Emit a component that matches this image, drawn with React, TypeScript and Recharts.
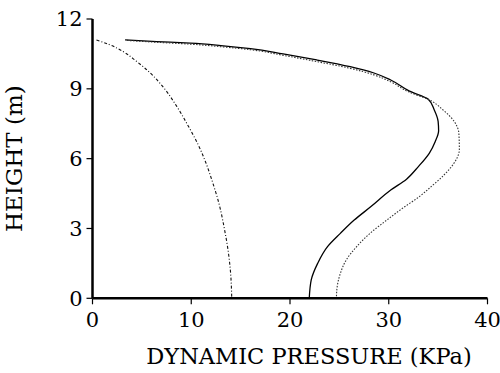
import React from "react";
import { LineChart, Line, XAxis, YAxis, Label } from "recharts";

const xTicks = [0, 10, 20, 30, 40];
const yTicks = [0, 3, 6, 9, 12];

const solidX = [3.3, 6.5, 9.9, 13.0, 16.0, 19.3, 22.7, 26.1, 28.5, 30.2, 32.1, 34.0, 34.6, 35.0, 35.05, 34.7, 34.1, 33.0, 31.8, 30.2, 28.2, 26.5, 25.1, 23.8, 22.8, 22.15, 21.95];
const solidY = [11.1, 11.03, 10.96, 10.86, 10.73, 10.5, 10.24, 9.95, 9.68, 9.38, 8.9, 8.55, 8.1, 7.6, 7.2, 6.73, 6.23, 5.66, 5.12, 4.65, 3.94, 3.36, 2.79, 2.22, 1.5, 0.79, 0];

const dottedX = [3.5, 6.5, 9.9, 13.0, 16.0, 19.3, 22.7, 26.1, 28.5, 30.2, 32.1, 34.0, 35.5, 36.7, 37.1, 37.15, 36.6, 35.6, 34.3, 33.1, 31.5, 29.8, 28.1, 26.75, 25.7, 25.1, 24.75, 24.7];
const dottedY = [11.08, 11.0, 10.92, 10.81, 10.68, 10.44, 10.17, 9.88, 9.6, 9.3, 8.85, 8.55, 8.09, 7.55, 7.09, 6.4, 5.8, 5.3, 4.8, 4.37, 3.9, 3.36, 2.79, 2.22, 1.65, 1.07, 0.4, 0];

const dashDotX = [0.4, 1.7, 3.1, 4.4, 5.8, 7.3, 8.6, 9.7, 10.7, 11.5, 12.15, 12.85, 13.35, 13.75, 14.0, 14.1];
const dashDotY = [11.1, 10.9, 10.6, 10.2, 9.7, 9.0, 8.2, 7.4, 6.6, 5.8, 5.0, 4.0, 3.0, 2.0, 1.0, 0];

const toPoints = (xs: number[], ys: number[]) => xs.map((x, i) => ({ x, y: ys[i] }));

const solidData = toPoints(solidX, solidY);
const dottedData = toPoints(dottedX, dottedY);
const dashDotData = toPoints(dashDotX, dashDotY);

const FONT = "DejaVu Serif";
const axisLine = { stroke: "#000", strokeWidth: 2.5 };
const tickLine = { stroke: "#000", strokeWidth: 1.2 };

const XTick = (props: any) => (
  <text x={props.x} y={props.y} dy="0.71em" textAnchor="middle" fill="#000" fontSize={21} fontFamily={FONT}>
    {props.payload.value}
  </text>
);
const YTick = (props: any) => (
  <text x={props.x} y={props.y} dy="0.355em" textAnchor="end" fill="#000" fontSize={21} fontFamily={FONT}>
    {props.payload.value}
  </text>
);

export default function App() {
  return (
    <div style={{ position: "absolute", left: 0, top: 0, background: "#fff" }}>
      <LineChart width={500} height={373} margin={{ top: 19, right: 12.5, bottom: 0, left: 32.5 }}>
        <XAxis
          xAxisId="in"
          type="number"
          dataKey="x"
          domain={[0, 40]}
          ticks={xTicks}
          mirror
          height={0}
          axisLine={false}
          tickLine={tickLine}
          tickSize={5}
          tickFormatter={() => ""}
        />
        <XAxis
          xAxisId="main"
          type="number"
          dataKey="x"
          domain={[0, 40]}
          ticks={xTicks}
          height={74.7}
          axisLine={axisLine}
          tickLine={tickLine}
          tickSize={6}
          tick={XTick}
          tickMargin={8}
        >
          <Label value="DYNAMIC PRESSURE (KPa)" position="insideBottom" offset={9} dx={19} style={{ fill: "#000", fontSize: 22.5, fontFamily: FONT }} />
        </XAxis>
        <XAxis xAxisId="top" orientation="top" type="number" domain={[0, 40]} height={0} axisLine={axisLine} tick={false} tickLine={false} />
        <YAxis
          yAxisId="in"
          type="number"
          dataKey="y"
          domain={[0, 12]}
          ticks={yTicks}
          mirror
          width={0}
          axisLine={false}
          tickLine={tickLine}
          tickSize={6}
          tickFormatter={() => ""}
        />
        <YAxis
          yAxisId="main"
          type="number"
          dataKey="y"
          domain={[0, 12]}
          ticks={yTicks}
          width={60}
          axisLine={axisLine}
          tickLine={tickLine}
          tickSize={6}
          tick={YTick}
          tickMargin={4}
        >
          <Label value="HEIGHT (m)" angle={-90} position="insideLeft" offset={-19} style={{ fill: "#000", fontSize: 23, fontFamily: FONT, textAnchor: "middle" }} />
        </YAxis>
        <YAxis yAxisId="right" orientation="right" type="number" domain={[0, 12]} width={0} axisLine={axisLine} tick={false} tickLine={false} />
        <Line xAxisId="main" yAxisId="main" data={solidData} dataKey="y" type="monotoneY" stroke="#000" strokeWidth={1.3} dot={false} isAnimationActive={false} />
        <Line xAxisId="main" yAxisId="main" data={dottedData} dataKey="y" type="monotoneY" stroke="#333" strokeWidth={1.1} strokeDasharray="1.5 1.5" dot={false} isAnimationActive={false} />
        <Line xAxisId="main" yAxisId="main" data={dashDotData} dataKey="y" type="monotoneY" stroke="#111" strokeWidth={1.1} strokeDasharray="3 2 1 2" dot={false} isAnimationActive={false} />
      </LineChart>
    </div>
  );
}
